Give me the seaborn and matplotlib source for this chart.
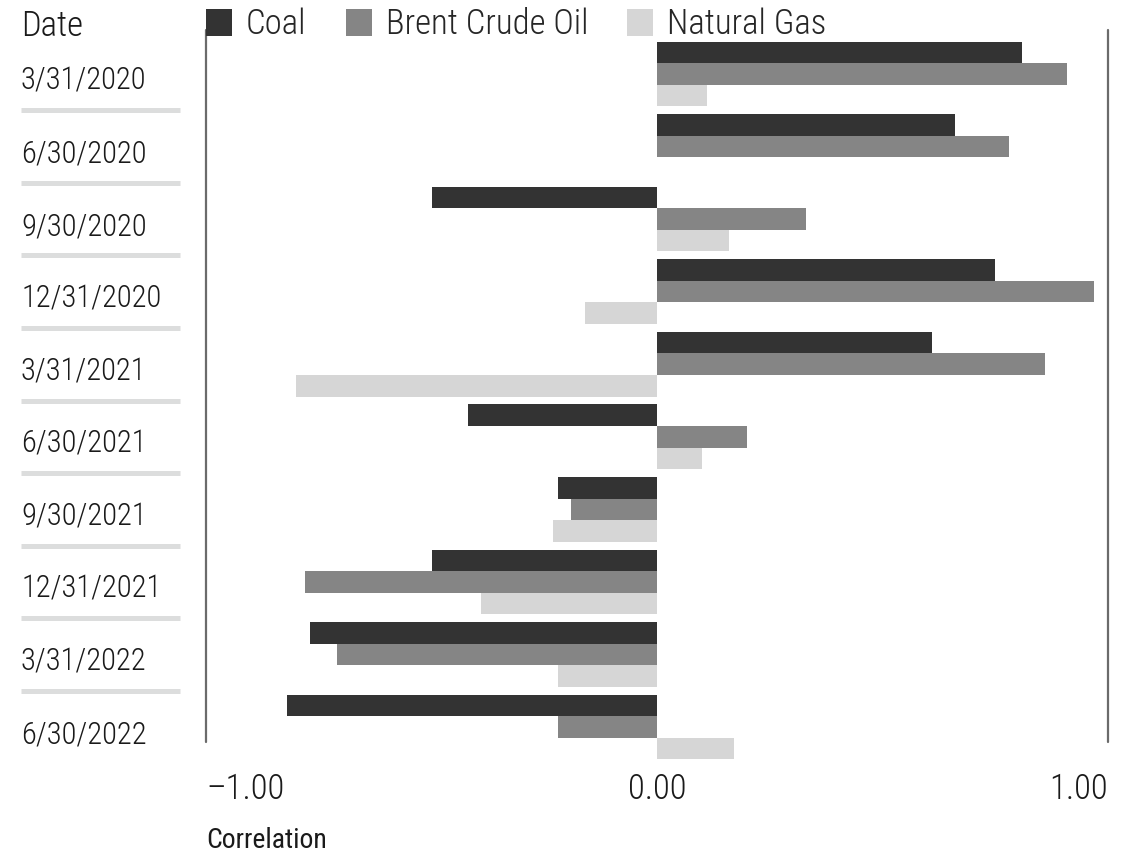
import matplotlib
matplotlib.use("Agg")
import matplotlib.pyplot as plt
import matplotlib.transforms as mtransforms
import pandas as pd
import seaborn as sns

# Quarterly correlations by commodity
dates = ["3/31/2020", "6/30/2020", "9/30/2020", "12/31/2020", "3/31/2021",
         "6/30/2021", "9/30/2021", "12/31/2021", "3/31/2022", "6/30/2022"]
coal = [0.81, 0.66, -0.50, 0.75, 0.61, -0.42, -0.22, -0.50, -0.77, -0.82]
brent = [0.91, 0.78, 0.33, 0.97, 0.86, 0.20, -0.19, -0.78, -0.71, -0.22]
natural_gas = [0.11, 0.00, 0.16, -0.16, -0.80, 0.10, -0.23, -0.39, -0.22, 0.17]
series_names = ["Coal", "Brent Crude Oil", "Natural Gas"]
series_colors = ["#333333", "#858585", "#d6d6d6"]
tick_values = [-1.0, 0.0, 1.0]
tick_labels = ["\u20131.00", "0.00", "1.00"]

df = pd.DataFrame({
    "date": dates * 3,
    "series": [series_names[0]] * len(dates) + [series_names[1]] * len(dates)
              + [series_names[2]] * len(dates),
    "value": coal + brent + natural_gas,
})

sns.set_style("white")
plt.rcParams["font.family"] = ["Roboto Condensed", "IBM Plex Sans Condensed", "DejaVu Sans"]
plt.rcParams["font.weight"] = "light"

W, H = 1136, 852
fig = plt.figure(figsize=(W / 100, H / 100), dpi=100)
ax_top, ax_bottom = 30, 770
ax = fig.add_axes([206 / W, 1 - ax_bottom / H, 902 / W, (ax_bottom - ax_top) / H])

sns.barplot(data=df, x="value", y="date", hue="series", hue_order=series_names,
            order=dates, palette=series_colors, orient="h", width=0.89,
            saturation=1, linewidth=0, errorbar=None, ax=ax)

ax.set_xlim(-1, 1)
ax.set_ylim(9.592, -0.606)
for s in ax.spines.values():
    s.set_visible(False)
ax.set_yticks([])
ax.set_ylabel("")

# Boundary lines at -1 and +1
line_bottom = (ax_bottom - 742) / (ax_bottom - ax_top)
for xv in (-1, 1):
    ax.axvline(xv, ymin=line_bottom, ymax=1, color="#6b6b6b", lw=1.6, clip_on=False)

# x ticks
ax.set_xticks(tick_values, tick_labels)
ax.tick_params(axis="x", length=0, pad=1.5, labelsize=25, colors="#1a1a1a")
lbls = ax.get_xticklabels()
lbls[0].set_ha("left")
lbls[2].set_ha("right")

ax.set_xlabel("Correlation", fontsize=20, loc="left", color="#1a1a1a")
ax.xaxis.label.set_va("baseline")
ax.xaxis.set_label_coords(0, (ax_bottom - 848) / (ax_bottom - ax_top))

# Date labels and separators in the left margin
trans = mtransforms.blended_transform_factory(fig.transFigure, ax.transData)
for i, d in enumerate(dates):
    ax.text(21 / W, i + 0.2205, d, transform=trans, ha="left", va="baseline",
            fontsize=22, color="#1a1a1a")
    if i < len(dates) - 1:
        ax.plot([21 / W, 180 / W], [i + 0.5, i + 0.5], transform=trans,
                color="#dcdddd", lw=3.6, solid_capstyle="butt", clip_on=False)

fig.text(21 / W, 1 - 36 / H, "Date", ha="left", va="baseline", fontsize=25,
         color="#1a1a1a")

sns.move_legend(ax, "upper left", bbox_to_anchor=(206 / W, 1 - 8 / H),
                bbox_transform=fig.transFigure, ncol=3, frameon=False, title=None,
                fontsize=25, handlelength=0.75, handleheight=0.8,
                handletextpad=0.4, columnspacing=1.13, borderpad=0, borderaxespad=0)

fig.savefig("out.png", dpi=100)
